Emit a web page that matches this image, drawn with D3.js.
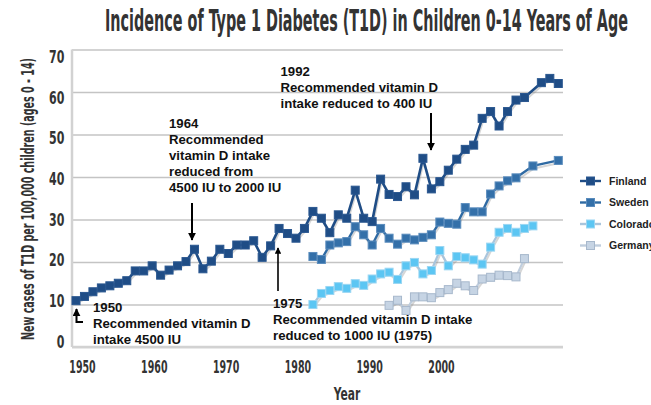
<!DOCTYPE html>
<html>
<head>
<meta charset="utf-8">
<script src="https://cdn.jsdelivr.net/npm/d3@7"></script>
<style>
  body { margin: 0; background: #fff; }
  text { font-family: "Liberation Sans", Arial, sans-serif; }
  .narrow { font-family: "Liberation Sans Narrow", "DejaVu Sans Condensed", sans-serif; font-weight: bold; fill: #333; }
  .note { font-size: 13.2px; font-weight: bold; fill: #111; }
</style>
</head>
<body>
<div id="chart"></div>
<script>
// values (cases per 100,000)
var finlandYears = [1950, 1951, 1952, 1953, 1954, 1955, 1956, 1957, 1958, 1959,
  1960, 1961, 1962, 1963, 1964, 1965, 1966, 1967, 1968, 1969,
  1970, 1971, 1972, 1973, 1974, 1975, 1976, 1977, 1978, 1979,
  1980, 1981, 1982, 1983, 1984, 1985, 1986, 1987, 1988, 1989,
  1990, 1991, 1992, 1993, 1994, 1995, 1996, 1997, 1998, 1999,
  2000, 2001, 2002, 2003, 2005, 2006, 2007];
var finlandValues = [10.9, 11.9, 13.0, 13.9, 14.4, 15.0, 15.6, 17.9, 17.9, 19.1,
  16.9, 18.1, 19.1, 20.1, 23.0, 18.4, 20.2, 23.0, 22.0, 24.0,
  24.0, 25.0, 21.1, 23.8, 27.9, 26.7, 25.6, 27.9, 31.9, 30.3,
  26.9, 31.1, 30.3, 36.9, 30.3, 29.5, 39.5, 35.9, 35.4, 37.7,
  35.8, 44.4, 37.2, 38.9, 41.6, 44.2, 46.5, 47.5, 53.8, 55.4,
  52.0, 55.4, 58.1, 58.7, 62.2, 63.2, 62.0];

var swedenYears = [1978, 1979, 1980, 1981, 1982, 1983, 1984, 1985, 1986, 1987,
  1988, 1989, 1990, 1991, 1992, 1993, 1994, 1995, 1996, 1997,
  1998, 1999, 2000, 2001, 2002, 2004, 2007];
var swedenValues = [21.3, 20.6, 24.0, 24.5, 24.8, 28.3, 26.4, 24.0, 27.9, 25.6,
  24.2, 25.6, 25.2, 25.8, 26.4, 29.4, 29.1, 28.9, 32.8, 31.8,
  31.8, 36.0, 37.9, 39.1, 39.8, 42.6, 43.9];

var coloradoYears = [1978, 1979, 1980, 1981, 1982, 1983, 1984, 1985, 1986, 1987,
  1988, 1989, 1990, 1991, 1992, 1993, 1994, 1995, 1996, 1997,
  1998, 1999, 2000, 2001, 2002, 2003, 2004];
var coloradoValues = [10.0, 12.6, 13.3, 14.2, 13.8, 14.9, 14.5, 16.0, 17.2, 17.6,
  15.9, 19.1, 19.9, 17.2, 18.0, 22.7, 19.1, 21.3, 21.0, 20.5,
  19.5, 23.5, 27.0, 27.9, 27.0, 27.9, 28.5];

var germanyYears = [1987, 1988, 1989, 1990, 1991, 1992, 1993, 1994, 1995, 1996,
  1997, 1998, 1999, 2000, 2001, 2002, 2003];
var germanyValues = [9.8, 11.0, 8.6, 11.8, 11.8, 11.6, 12.8, 13.5, 15.0, 14.4,
  13.3, 16.0, 16.4, 16.9, 16.8, 16.5, 20.8];

var seriesNames = ["Finland", "Sweden", "Colorado", "Germany"];
var yearTicks = [1950, 1960, 1970, 1980, 1990, 2000];
var valueTicks = [0, 10, 20, 30, 40, 50, 60, 70];

var svgWidth = 651;
var svgHeight = 405;

var margin = {
  top: 49.5,
  right: 88,
  bottom: 58,
  left: 72
};

var width = svgWidth - margin.left - margin.right;
var height = svgHeight - margin.top - margin.bottom;

var svg = d3.select("#chart")
            .append("svg")
            .attr("width", svgWidth)
            .attr("height", svgHeight);

var chartGroup = svg.append("g")
  .attr("transform", `translate(${margin.left}, ${margin.top})`);

// data scales
var xLinearScale = d3.scaleLinear()
                    .domain([1950, 2007])
                    .range([4, width - 4.7]);

var yLinearScale = d3.scaleLinear()
                    .domain([0, 70])
                    .range([height, 0]);

// the tick labels in the picture sit on their own spacing
var xLabelScale = d3.scaleLinear()
                    .domain([1950, 2000])
                    .range([10, 369]);

var yLabelScale = d3.scaleLinear()
                    .domain([0, 70])
                    .range([height - 5.5, 7.5]);

// gridlines
chartGroup.append("g")
  .call(d3.axisLeft(yLinearScale).tickValues(valueTicks).tickSize(-width).tickFormat(""))
  .call(g => g.select(".domain").remove())
  .selectAll("line")
  .attr("stroke", "#c4c4c4")
  .attr("stroke-width", 1.6);

// plot border, left and bottom
chartGroup.append("line")
  .attr("x1", 0).attr("x2", 0)
  .attr("y1", 0).attr("y2", height)
  .attr("stroke", "#d2d2d2")
  .attr("stroke-width", 2.5);
chartGroup.append("line")
  .attr("x1", 0).attr("x2", width)
  .attr("y1", height).attr("y2", height)
  .attr("stroke", "#d2d2d2")
  .attr("stroke-width", 2.5);

//Create the axes
var bottomAxis = d3.axisBottom(xLabelScale).tickValues(yearTicks).tickFormat(d3.format("d")).tickSize(0).tickPadding(0);
var leftAxis = d3.axisLeft(yLabelScale).tickValues(valueTicks).tickSize(0);

chartGroup.append("g")
  .attr("transform", `translate(0, ${height + 14})`)
  .call(bottomAxis)
  .call(g => g.select(".domain").remove())
  .selectAll("text")
  .attr("class", "narrow")
  .style("font-size", "17px")
  .attr("transform", "scale(0.62,1)");

chartGroup.append("g")
  .call(leftAxis)
  .call(g => g.select(".domain").remove())
  .selectAll("text")
  .attr("class", "narrow")
  .style("font-size", "17.5px")
  .attr("x", -11)
  .attr("transform", "scale(0.7,1)");

// series
var series = [
  {name: "Germany", years: germanyYears, values: germanyValues, line: "#bfcddd", fill: "#c6d4e4", stroke: "#a7b8cc", lw: 2.2},
  {name: "Colorado", years: coloradoYears, values: coloradoValues, line: "#a9c5dc", fill: "#5cc6f3", stroke: "#9ad6f3", lw: 2.2},
  {name: "Sweden", years: swedenYears, values: swedenValues, line: "#2f6aa3", fill: "#3470a9", stroke: "#5a8cbd", lw: 2.4},
  {name: "Finland", years: finlandYears, values: finlandValues, line: "#1f4d86", fill: "#1f4d86", stroke: "#2a5790", lw: 2.6}
];

var line = d3.line()
  .x(d => xLinearScale(d[0]))
  .y(d => yLinearScale(d[1]));

series.forEach(function(s) {
  var pts = d3.zip(s.years, s.values);

  // soft shadow under each line
  chartGroup.append("path")
    .datum(pts)
    .attr("d", line)
    .attr("fill", "none")
    .attr("stroke", "#8a8a8a")
    .attr("stroke-opacity", 0.35)
    .attr("stroke-width", 2)
    .attr("transform", "translate(1, 2.5)");

  chartGroup.append("path")
    .datum(pts)
    .attr("d", line)
    .attr("fill", "none")
    .attr("stroke", s.line)
    .attr("stroke-width", s.lw)
    .attr("stroke-linejoin", "round");

  chartGroup.selectAll(null)
    .data(pts)
    .enter()
    .append("rect")
    .attr("x", d => xLinearScale(d[0]) - 4)
    .attr("y", d => yLinearScale(d[1]) - 4)
    .attr("width", 8)
    .attr("height", 8)
    .attr("fill", s.fill)
    .attr("stroke", s.stroke)
    .attr("stroke-width", 1);
});

// titles
svg.append("text")
  .attr("class", "narrow")
  .attr("x", 366.5)
  .attr("y", 31)
  .attr("text-anchor", "middle")
  .attr("textLength", 523)
  .attr("lengthAdjust", "spacingAndGlyphs")
  .style("font-size", "30px")
  .text("Incidence of Type 1 Diabetes (T1D) in Children 0-14 Years of Age");

svg.append("text")
  .attr("class", "narrow")
  .attr("transform", "translate(34, 199) rotate(-90)")
  .attr("text-anchor", "middle")
  .attr("textLength", 282)
  .attr("lengthAdjust", "spacingAndGlyphs")
  .style("font-size", "17.5px")
  .text("New cases of T1D per 100,000 children (ages 0 - 14)");

svg.append("text")
  .attr("class", "narrow")
  .attr("x", 0)
  .attr("y", 400)
  .attr("text-anchor", "middle")
  .attr("transform", "translate(347,0) scale(0.66,1)")
  .style("font-size", "18px")
  .text("Year");

// legend
var legendColors = {};
series.forEach(s => legendColors[s.name] = s);
var legendY = d3.scalePoint().domain(seriesNames).range([181, 245.5]);

var legend = svg.selectAll(".legend")
  .data(seriesNames)
  .enter()
  .append("g")
  .attr("class", "legend")
  .attr("transform", d => `translate(580, ${legendY(d)})`);

legend.append("line")
  .attr("x1", 0).attr("x2", 21)
  .attr("stroke", d => legendColors[d].line)
  .attr("stroke-width", 2.4);
legend.append("rect")
  .attr("x", 6.5).attr("y", -4)
  .attr("width", 8).attr("height", 8)
  .attr("fill", d => legendColors[d].fill)
  .attr("stroke", d => legendColors[d].stroke);
legend.append("text")
  .attr("x", 29)
  .attr("dy", "0.35em")
  .style("font-size", "10.5px")
  .style("font-weight", "bold")
  .attr("fill", "#222")
  .text(d => d);

// annotations
svg.append("defs").append("marker")
  .attr("id", "head")
  .attr("viewBox", "0 0 10 10")
  .attr("refX", 9).attr("refY", 5)
  .attr("markerWidth", 4).attr("markerHeight", 4)
  .attr("orient", "auto")
  .append("path")
  .attr("d", "M0,0 L10,5 L0,10 z")
  .attr("fill", "#000");

function note(x, y, lines) {
  var t = svg.append("text").attr("class", "note").attr("x", x).attr("y", y);
  lines.forEach(function(l, i) {
    t.append("tspan").attr("x", x).attr("dy", i ? 15.9 : 0).text(l);
  });
}

function arrow(x1, y1, x2, y2, w) {
  svg.append("line")
    .attr("x1", x1).attr("y1", y1)
    .attr("x2", x2).attr("y2", y2)
    .attr("stroke", "#000")
    .attr("stroke-width", w)
    .attr("marker-end", "url(#head)");
}

note(169, 128.4, ["1964", "Recommended", "vitamin D intake", "reduced from", "4500 IU to 2000 IU"]);
arrow(192, 203, 192, 240, 2);

note(280.5, 76, ["1992", "Recommended vitamin D", "intake reduced to 400 IU"]);
arrow(431, 113, 431, 150, 2);

note(273, 308, ["1975", "Recommended vitamin D intake", "reduced to 1000 IU (1975)"]);
arrow(278, 291, 278, 248, 1.6);

note(93, 312, ["1950", "Recommended vitamin D", "intake 4500 IU"]);
svg.append("path")
  .attr("d", "M83,322 L76.5,322 L76.5,309")
  .attr("fill", "none")
  .attr("stroke", "#000")
  .attr("stroke-width", 2)
  .attr("marker-end", "url(#head)");
</script>
</body>
</html>
